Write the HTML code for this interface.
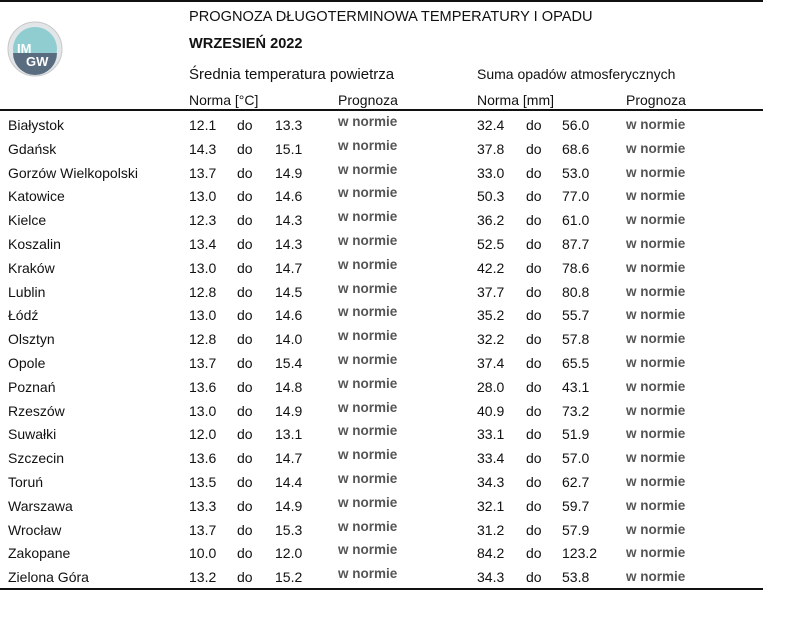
<!DOCTYPE html>
<html><head><meta charset="utf-8"><style>
body{margin:0;width:800px;height:629px;background:#fff;position:relative;font-family:"Liberation Sans",sans-serif;font-size:14px;color:#111;overflow:hidden}
.t{position:absolute;white-space:nowrap;line-height:1}
.b{font-weight:bold;color:#555;font-size:13.5px}
.ln{position:absolute;left:0;width:763px;height:2px;background:#111}
</style></head><body>
<div class="ln" style="top:0"></div>
<div class="ln" style="top:109px;height:1.5px"></div>
<div class="ln" style="top:588px;height:1.5px"></div>
<svg style="position:absolute;left:6px;top:20px" width="58" height="58">
<circle cx="29" cy="29" r="27" fill="#e2e6e8" stroke="#c8c8c8"/>
<circle cx="29" cy="29" r="22" fill="#8fcdd0"/>
<path d="M7 33 H51 A22 22 0 0 1 7 33Z" fill="#5a6c80"/>
<text x="11" y="33" font-size="13" font-weight="bold" fill="#fff" font-family="Liberation Sans">IM</text>
<text x="20" y="46" font-size="13" font-weight="bold" fill="#fff" font-family="Liberation Sans">GW</text>
</svg>
<div class="t" style="left:189px;top:10px;font-size:14.6px">PROGNOZA DŁUGOTERMINOWA TEMPERATURY I OPADU</div>
<div class="t" style="left:189px;top:37px;font-size:14.6px;font-weight:bold">WRZESIEŃ 2022</div>
<div class="t" style="left:189px;top:67px;font-size:15px">Średnia temperatura powietrza</div>
<div class="t" style="left:477px;top:67px">Suma opadów atmosferycznych</div>
<div class="t" style="left:189px;top:93px">Norma [°C]</div>
<div class="t" style="left:338px;top:93px">Prognoza</div>
<div class="t" style="left:477px;top:93px">Norma [mm]</div>
<div class="t" style="left:626px;top:93px">Prognoza</div>
<div id="rows"></div>
<script>
var d=[["Białystok","12.1","13.3","32.4","56.0"],["Gdańsk","14.3","15.1","37.8","68.6"],["Gorzów Wielkopolski","13.7","14.9","33.0","53.0"],["Katowice","13.0","14.6","50.3","77.0"],["Kielce","12.3","14.3","36.2","61.0"],["Koszalin","13.4","14.3","52.5","87.7"],["Kraków","13.0","14.7","42.2","78.6"],["Lublin","12.8","14.5","37.7","80.8"],["Łódź","13.0","14.6","35.2","55.7"],["Olsztyn","12.8","14.0","32.2","57.8"],["Opole","13.7","15.4","37.4","65.5"],["Poznań","13.6","14.8","28.0","43.1"],["Rzeszów","13.0","14.9","40.9","73.2"],["Suwałki","12.0","13.1","33.1","51.9"],["Szczecin","13.6","14.7","33.4","57.0"],["Toruń","13.5","14.4","34.3","62.7"],["Warszawa","13.3","14.9","32.1","59.7"],["Wrocław","13.7","15.3","31.2","57.9"],["Zakopane","10.0","12.0","84.2","123.2"],["Zielona Góra","13.2","15.2","34.3","53.8"]];
var h="";d.forEach(function(r,i){var y=118+i*23.8;
h+='<div class="t" style="left:8px;top:'+y+'px">'+r[0]+'</div>'+
'<div class="t" style="left:189px;top:'+y+'px">'+r[1]+'</div>'+
'<div class="t" style="left:237px;top:'+y+'px">do</div>'+
'<div class="t" style="left:275px;top:'+y+'px">'+r[2]+'</div>'+
'<div class="t b" style="left:338px;top:'+(y-3)+'px">w normie</div>'+
'<div class="t" style="left:477px;top:'+y+'px">'+r[3]+'</div>'+
'<div class="t" style="left:526px;top:'+y+'px">do</div>'+
'<div class="t" style="left:562px;top:'+y+'px">'+r[4]+'</div>'+
'<div class="t b" style="left:626px;top:'+y+'px">w normie</div>';});
document.getElementById("rows").innerHTML=h;
</script>
</body></html>
